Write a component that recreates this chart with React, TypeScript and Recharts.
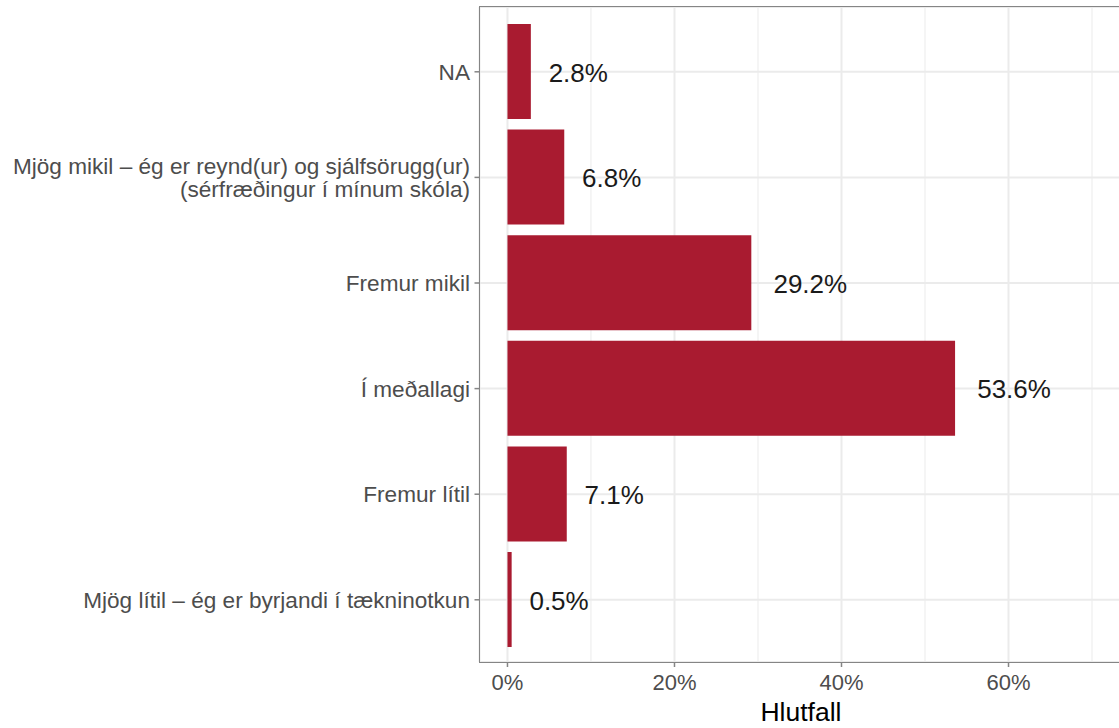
import React from 'react';
import { BarChart, Bar, XAxis, YAxis, CartesianGrid, LabelList } from 'recharts';

const categories = [
  'NA',
  'Mjög mikil – ég er reynd(ur) og sjálfsörugg(ur)\n(sérfræðingur í mínum skóla)',
  'Fremur mikil',
  'Í meðallagi',
  'Fremur lítil',
  'Mjög lítil – ég er byrjandi í tækninotkun',
];
const values = [2.8, 6.8, 29.2, 53.6, 7.1, 0.5];
const xTicks = [0, 20, 40, 60];
const minorTicks = [10, 30, 50, 70];
const xDomain = [-3.35, 73.65];

const data = categories.map((c, i) => ({ cat: c, value: values[i] }));

const FONT = '"Liberation Sans", Arial, Helvetica, sans-serif';
const BAR_COLOR = '#a91b30';
const GRID = '#ebebeb';
const BORDER = '#858585';

const PLOT_LEFT = 479.5;
const PLOT_TOP = 7;
const PLOT_BOTTOM = 662;
const CHART_H = 728;

const charW = (ch: string) => (ch === '.' ? 0.278 : ch === '%' ? 0.889 : 0.556);

const minorGen = (args: any) => {
  try {
    const scale = args?.xAxis?.scale;
    if (typeof scale === 'function') return minorTicks.map((t) => scale(t));
    if (scale && typeof scale.map === 'function') return minorTicks.map((t) => scale.map(t));
  } catch (e) {
    /* ignore */
  }
  return [];
};

const YTick = (props: any) => {
  const { x, y, payload } = props;
  const lines = String(payload.value).split('\n');
  const lh = 23.7;
  const start = -((lines.length - 1) / 2) * lh;
  return (
    <text x={x} y={y} textAnchor="end" fill="#4d4d4d" fontSize={22.6} fontFamily={FONT}>
      {lines.map((l, i) => (
        <tspan key={i} x={x} dy={i === 0 ? start + 8 : lh}>
          {l}
        </tspan>
      ))}
    </text>
  );
};

const BarLabel = (props: any) => {
  const { x, y, width, height, value } = props;
  const txt = `${Number(value).toFixed(1)}%`;
  const fs = 26;
  const w = txt.split('').reduce((s, c) => s + charW(c), 0) * fs;
  return (
    <text
      x={Number(x) + Number(width) + 0.3 * w}
      y={Number(y) + Number(height) / 2 + 10}
      textAnchor="start"
      fill="#1a1a1a"
      fontSize={fs}
      fontFamily={FONT}
    >
      {txt}
    </text>
  );
};

export default function App() {
  return (
    <div
      style={{
        position: 'fixed',
        left: 0,
        top: 0,
        width: 1119,
        height: CHART_H,
        overflow: 'hidden',
        background: '#fff',
      }}
    >
      <BarChart
        width={1125}
        height={CHART_H}
        data={data}
        layout="vertical"
        margin={{ top: PLOT_TOP, right: 2.5, bottom: 0, left: 0 }}
        barSize={95}
      >
        <CartesianGrid
          horizontal={false}
          stroke={GRID}
          strokeWidth={1}
          verticalCoordinatesGenerator={minorGen}
        />
        <CartesianGrid stroke={GRID} strokeWidth={2} />
        <XAxis
          type="number"
          dataKey="value"
          domain={xDomain}
          ticks={xTicks}
          allowDataOverflow
          tickFormatter={(v: number) => `${v}%`}
          axisLine={false}
          tickLine={{ stroke: BORDER, strokeWidth: 1.5 }}
          tickSize={5}
          tickMargin={7}
          height={CHART_H - PLOT_BOTTOM}
          tick={{ fill: '#4d4d4d', fontSize: 22, fontFamily: FONT }}
          label={{
            value: 'Hlutfall',
            position: 'insideBottom',
            offset: 7,
            fill: '#000',
            fontSize: 26.5,
            fontFamily: FONT,
          }}
        />
        <YAxis
          type="category"
          dataKey="cat"
          width={PLOT_LEFT}
          axisLine={false}
          tickLine={{ stroke: BORDER, strokeWidth: 1.5 }}
          tickSize={5}
          tickMargin={4.5}
          padding={{ top: 12, bottom: 9.4 }}
          tick={<YTick />}
          interval={0}
        />
        <Bar dataKey="value" fill={BAR_COLOR} isAnimationActive={false}>
          <LabelList dataKey="value" content={<BarLabel />} />
        </Bar>
      </BarChart>
      <div
        style={{
          position: 'absolute',
          left: PLOT_LEFT - 0.75,
          top: PLOT_TOP - 0.75,
          width: 700,
          height: PLOT_BOTTOM - PLOT_TOP + 1.5,
          border: `1.5px solid ${BORDER}`,
          boxSizing: 'border-box',
          pointerEvents: 'none',
        }}
      />
    </div>
  );
}
